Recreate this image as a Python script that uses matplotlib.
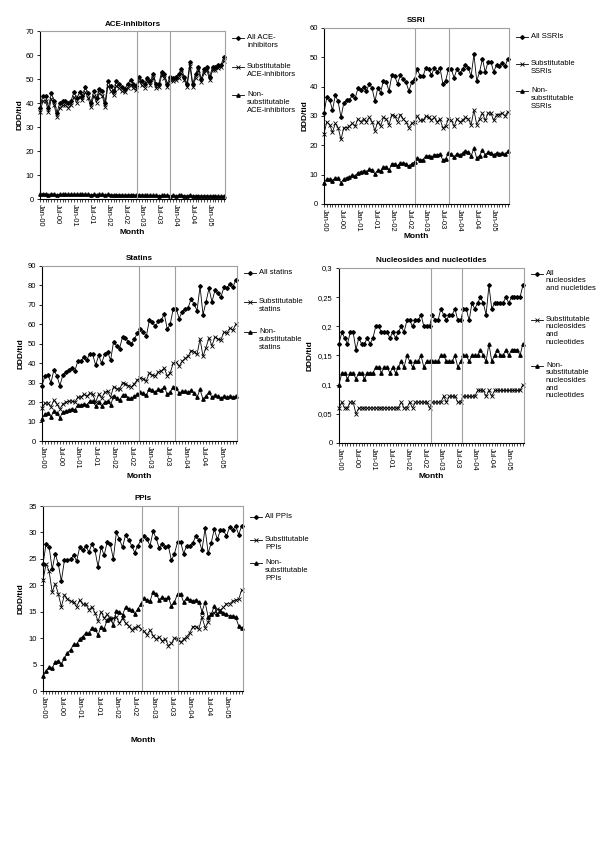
import matplotlib
matplotlib.use("Agg")
import matplotlib.pyplot as plt
from matplotlib.lines import Line2D

plt.rcParams['font.family'] = ['Liberation Sans', 'DejaVu Sans']

tick_labels = ['Jan-00', 'Jul-00', 'Jan-01', 'Jul-01', 'Jan-02', 'Jul-02',
               'Jan-03', 'Jul-03', 'Jan-04', 'Jul-04', 'Jan-05']

# ACE-inhibitors
ace_all = [38, 43, 43, 38, 44, 41, 36, 40, 41, 41, 40, 41, 44.5, 42, 44.5, 43, 46.5, 44, 40, 45,
           42, 46, 45, 40, 49, 47, 45, 49, 48, 46.5, 46, 48, 49.5, 48, 47, 51, 49, 48, 50.5, 49,
           52, 48, 48, 53, 52, 48, 51, 50.5, 51, 52, 54, 51, 48, 57, 48, 52, 55, 50, 54, 55,
           51, 55, 55, 56, 56, 59]
ace_sub = [36.1, 40.8, 40.9, 36.2, 41.8, 39.0, 34.3, 38.1, 39.0, 39.1, 38.1, 39.1, 42.5, 40.1, 42.5,
           41.1, 44.5, 42.1, 38.3, 43.1, 40.2, 44.1, 43.1, 38.3, 47.1, 45.2, 43.3, 47.2, 46.2, 44.8,
           44.4, 46.3, 47.7, 46.3, 45.4, 49.3, 47.3, 46.4, 49.0, 47.4, 50.5, 46.4, 46.6, 51.5, 50.4,
           46.5, 49.6, 49.0, 49.6, 50.5, 52.5, 49.6, 46.7, 55.5, 46.7, 50.6, 53.6, 48.7, 52.6, 53.6,
           49.7, 53.6, 53.7, 54.7, 54.9, 57.7]
ace_non = [1.9, 2.2, 2.1, 1.8, 2.2, 2.0, 1.7, 1.9, 2.0, 1.9, 1.9, 1.9, 2.0, 1.9, 2.0, 1.9, 2.0, 1.9,
           1.7, 1.9, 1.8, 1.9, 1.9, 1.7, 1.9, 1.8, 1.7, 1.8, 1.8, 1.7, 1.6, 1.7, 1.8, 1.7, 1.6, 1.7,
           1.7, 1.6, 1.5, 1.6, 1.5, 1.6, 1.4, 1.5, 1.6, 1.5, 1.4, 1.5, 1.4, 1.5, 1.5, 1.4, 1.3, 1.5,
           1.3, 1.4, 1.4, 1.3, 1.4, 1.4, 1.3, 1.4, 1.3, 1.3, 1.1, 1.3]

# SSRI
ssri_all = [31, 36.5, 35.5, 32, 37, 35, 29.5, 34.5, 35.5, 35.5, 37, 36, 39.5, 39, 40, 38.5, 41, 39.5,
            35, 39.5, 38, 42, 41.5, 38.5, 44, 43.5, 41, 44, 42.5, 41.5, 38.5, 41.5, 42.5, 46, 43.5,
            43.5, 46.5, 46, 44, 46.5, 45, 46.5, 41, 42, 46, 46, 43, 46, 44.5, 46, 47.5, 46.5, 43.5,
            51, 42, 45, 49.5, 45, 48.5, 48.5, 45, 47.5, 47, 48, 47, 49.5]
ssri_sub = [24, 28, 27, 24.5, 27.5, 26, 22, 26, 26, 26.5, 27.5, 26.5, 29, 28, 29, 28, 29.5, 28, 25,
            28, 26.5, 29.5, 29, 27, 30.5, 30, 28, 30.5, 29, 28, 26, 27.5, 28, 30, 28.5, 28.5, 30,
            29.5, 28.5, 29.5, 28, 29, 26, 26.5, 29, 28.5, 26.5, 29, 28, 28.5, 29.5, 29, 27, 32, 27,
            29, 31, 28.5, 31, 31, 28.5, 30.5, 30.5, 31, 30, 31.5]
ssri_non = [7.3, 8.5, 8.5, 8, 9, 8.7, 7.3, 8.5, 9, 9.2, 9.8, 9.5, 10.7, 11, 11.3, 11, 11.8, 11.7, 10.2,
            11.5, 11.3, 12.6, 12.7, 11.5, 13.8, 13.7, 13, 14, 14, 13.8, 12.8, 13.8, 14.3, 15.8, 15.1,
            15.1, 16.4, 16.4, 15.9, 16.8, 16.8, 17, 15, 15.4, 17.3, 17.2, 16, 17.2, 16.8, 17.3, 18.2,
            17.6, 16.3, 19, 15.6, 16.5, 18.3, 16.8, 17.6, 17.5, 16.8, 17.4, 17.2, 17.4, 16.9, 18]

# Statins
stat_all = [28.5, 33.5, 34, 30, 36.5, 33.5, 28.5, 34, 35.5, 36.5, 37.5, 36, 41, 41, 43, 41.5, 45,
            44.5, 39, 44, 40, 44.5, 46, 41.5, 51, 49, 47.5, 53.5, 53, 51, 50, 52.5, 55.5, 57.5, 56,
            54, 62, 61, 59, 61.5, 62, 65.5, 57.5, 60, 68, 68, 63, 66.5, 68, 68.5, 73, 70.5, 67, 79.5,
            65, 71.5, 78.5, 71.5, 77.5, 76, 74, 79, 78.5, 81, 79, 83]
stat_sub = [17, 19.5, 19.5, 17.5, 21, 19, 16.5, 19, 20, 20.5, 20.5, 20, 22.5, 22.5, 24, 23, 24.5, 24,
            20, 24, 22, 25, 25.5, 22.5, 28, 27, 26.5, 30, 29.5, 28.5, 28, 29.5, 31.5, 32.5, 32, 31,
            35, 34, 33.5, 35.5, 36, 37.5, 33.5, 35, 40, 40.5, 38.5, 41, 42.5, 43.5, 46.5, 46, 44.5,
            52.5, 43.5, 48, 53, 49, 53.5, 52.5, 52, 56, 55.5, 58, 57, 60]
stat_non = [11.5, 14, 14.5, 12.5, 15.5, 14.5, 12, 15, 15.5, 16, 16.5, 16, 18.5, 18.5, 19, 18.5, 20.5,
            20.5, 18, 20, 18, 20, 20.5, 18.5, 23, 22, 21, 23.5, 23.5, 22, 22, 23, 24, 25, 24.5, 23.5,
            27, 26, 25, 26.5, 26, 28, 24, 25, 28, 27.5, 24.5, 25.5, 25.5, 25, 26, 24.5, 22.5, 26.5,
            21.5, 23, 25, 22.5, 23.5, 23, 22, 23, 22.5, 23, 22.5, 23]

# Nucleosides and nucleotides
nuc_all = [0.17, 0.19, 0.18, 0.17, 0.19, 0.19, 0.16, 0.18, 0.17, 0.17, 0.18, 0.17, 0.18, 0.20, 0.20,
           0.19, 0.19, 0.19, 0.18, 0.19, 0.18, 0.19, 0.20, 0.19, 0.21, 0.21, 0.20, 0.21, 0.21, 0.22,
           0.20, 0.20, 0.20, 0.22, 0.21, 0.21, 0.23, 0.22, 0.21, 0.22, 0.22, 0.23, 0.21, 0.21, 0.23,
           0.23, 0.21, 0.24, 0.23, 0.24, 0.25, 0.24, 0.22, 0.27, 0.23, 0.24, 0.24, 0.24, 0.24, 0.25,
           0.24, 0.25, 0.25, 0.25, 0.25, 0.27]
nuc_sub = [0.06, 0.07, 0.06, 0.06, 0.07, 0.07, 0.05, 0.06, 0.06, 0.06, 0.06, 0.06, 0.06, 0.06, 0.06,
           0.06, 0.06, 0.06, 0.06, 0.06, 0.06, 0.06, 0.07, 0.06, 0.06, 0.07, 0.06, 0.07, 0.07, 0.07,
           0.07, 0.07, 0.06, 0.07, 0.07, 0.07, 0.07, 0.08, 0.07, 0.08, 0.08, 0.08, 0.07, 0.07, 0.08,
           0.08, 0.08, 0.08, 0.08, 0.09, 0.09, 0.09, 0.08, 0.09, 0.08, 0.09, 0.09, 0.09, 0.09, 0.09,
           0.09, 0.09, 0.09, 0.09, 0.09, 0.10]
nuc_non = [0.10, 0.12, 0.12, 0.11, 0.12, 0.12, 0.11, 0.12, 0.12, 0.11, 0.12, 0.12, 0.12, 0.13, 0.13,
           0.12, 0.13, 0.13, 0.12, 0.13, 0.12, 0.13, 0.14, 0.13, 0.15, 0.14, 0.13, 0.14, 0.14, 0.15,
           0.13, 0.14, 0.14, 0.14, 0.14, 0.14, 0.15, 0.15, 0.14, 0.14, 0.14, 0.15, 0.13, 0.14, 0.15,
           0.15, 0.14, 0.15, 0.15, 0.15, 0.16, 0.15, 0.14, 0.17, 0.14, 0.15, 0.16, 0.15, 0.15, 0.16,
           0.15, 0.16, 0.16, 0.16, 0.15, 0.17]

# PPIs
ppi_all = [24, 27.8, 27.3, 23, 26, 24, 20.8, 24.7, 24.7, 24.9, 25.7, 24.6, 27.2, 26.6, 27.4, 26.3,
           27.8, 26.6, 23.5, 27.2, 25.7, 28.2, 27.8, 25, 30, 28.7, 27.2, 29.5, 28.6, 27.5, 26.2, 27.5,
           28.5, 29.4, 28.7, 27.5, 30.2, 28.9, 27, 27.9, 27.2, 27.4, 24.7, 26, 28.2, 28.2, 26, 27.5,
           27.5, 28, 29.4, 28.5, 26.6, 30.8, 26.1, 28, 30.6, 28.7, 30.4, 30.4, 29.3, 31, 30.5, 31.2,
           29.6, 31.3]
ppi_sub = [21, 24, 22.7, 18.7, 20.3, 18.4, 15.9, 18.2, 17.4, 17, 16.8, 15.9, 17.2, 16.4, 16.4, 15.4,
           15.9, 14.8, 13.2, 15, 13.8, 14.5, 13.5, 13.8, 14, 12.8, 13.8, 12.8, 12.3, 11.6, 12.0, 12.3,
           11.8, 11.3, 10.6, 11.5, 10.5, 9.8, 10.2, 9.5, 9.8, 8.6, 9, 10, 9.8, 9.2, 9.8, 10.3, 11,
           12.2, 12.2, 11.8, 14, 12, 13, 14.5, 14.8, 15.5, 15.3, 15.8, 16.5, 16.5, 17, 17.2, 17.4, 19.2]
ppi_non = [2.8, 3.8, 4.5, 4.3, 5.5, 5.7, 5.1, 6.2, 7.2, 7.8, 8.8, 8.8, 9.9, 10.3, 11, 10.9, 12, 11.8,
           10.6, 12.2, 11.8, 13.5, 13.9, 12.5, 15.2, 15, 14.4, 15.9, 15.6, 15.3, 14.6, 15.5, 16.5,
           17.6, 17.2, 17, 18.8, 18.4, 17.2, 17.8, 17.4, 17.7, 16.1, 16.8, 18.4, 18.4, 16.8, 17.6,
           17.3, 17.1, 17.2, 16.9, 15, 16.8, 14, 14.5, 16, 14.5, 15.2, 14.8, 14.5, 14.2, 14.2, 14, 12.3, 12]

W, H = 600, 850
fig = plt.figure(figsize=(6, 8.5), dpi=100)


def fx(x):
    return x / W


def fy(y):
    return 1 - y / H


markers = [dict(marker='D', ms=1.9, mfc='black', mec='black'),
           dict(marker='x', ms=2.6, mew=0.6, mec='black'),
           dict(marker='^', ms=2.4, mfc='black', mec='black')]


def panel(box, title, series, ymax, ystep, fmt, vlines, leg, leg_y, ylab_x, month_y, lsp=1.2):
    left, right, top, bottom = box
    ax = fig.add_axes([fx(left), fy(bottom), fx(right - left), (bottom - top) / H])
    n = len(series[0])
    x = list(range(n))
    for s, m in zip(series, markers):
        ax.plot(x, s, color='black', lw=0.6, clip_on=False, **m)
    for v in vlines:
        ax.axvline(v, color='#a0a0a0', lw=0.8)
    ax.set_xlim(0, n - 0.6)
    ax.set_ylim(0, ymax)
    yt = [i * ystep for i in range(int(round(ymax / ystep)) + 1)]
    ax.set_yticks(yt)
    ax.set_yticklabels([fmt(v) for v in yt], fontsize=5.5)
    ax.set_xticks(x)
    ax.set_xticklabels([tick_labels[i // 6] if i % 6 == 0 and i // 6 < len(tick_labels) else ''
                        for i in x], rotation=-90, fontsize=5.3, va='top', ha='center')
    ax.tick_params(axis='x', length=2, width=0.5, pad=1.5)
    ax.tick_params(axis='y', length=2.5, width=0.6, pad=2)
    for sp in ['left', 'bottom']:
        ax.spines[sp].set_linewidth(0.8)
    for sp in ['top', 'right']:
        ax.spines[sp].set_color('#a0a0a0')
        ax.spines[sp].set_linewidth(0.8)
    cx = (left + right) / 2
    fig.text(fx(cx), fy(top - 7), title, ha='center', va='center', fontsize=5.8, fontweight='bold')
    fig.text(fx(cx), fy(month_y), 'Month', ha='center', va='center', fontsize=6, fontweight='bold')
    fig.text(fx(ylab_x), fy((top + bottom) / 2), 'DDD/tid', rotation=90, ha='center',
             va='center', fontsize=6, fontweight='bold')
    hx0 = right + 7
    for lab, yy, m in zip(leg, leg_y, markers):
        fig.add_artist(Line2D([fx(hx0), fx(hx0 + 12)], [fy(yy), fy(yy)], color='black', lw=0.6))
        fig.add_artist(Line2D([fx(hx0 + 6)], [fy(yy)], color='black', **m))
        fig.text(fx(hx0 + 15), fy(yy - 4), lab, ha='left', va='top', fontsize=5.5,
                 linespacing=lsp)
    return ax


def num(v):
    return '%g' % v


def comma(v):
    return ('%g' % round(v, 2)).replace('.', ',')


panel((40, 225, 31, 199), 'ACE-inhibitors', [ace_all, ace_sub, ace_non], 70, 10, num,
      [34.2, 45.9],
      ['All ACE-\ninhibitors', 'Substitutable\nACE-inhibitors',
       'Non-\nsubstitutable\nACE-inhibitors'],
      [38, 67, 95], 20, 233)

panel((324, 509, 28, 204), 'SSRI', [ssri_all, ssri_sub, ssri_non], 60, 10, num,
      [32.3, 44.3],
      ['All SSRIs', 'Substitutable\nSSRIs', 'Non-\nsubstitutable\nSSRIs'],
      [37, 64, 91], 305, 236)

panel((42, 237, 266, 441), 'Statins', [stat_all, stat_sub, stat_non], 90, 10, num,
      [32.6, 44.5],
      ['All statins', 'Substitutable\nstatins', 'Non-\nsubstitutable\nstatins'],
      [273, 302, 332], 21, 476)

panel((339, 524, 268, 443), 'Nucleosides and nucleotides', [nuc_all, nuc_sub, nuc_non],
      0.3, 0.05, comma, [32.6, 43.4],
      ['All\nnucleosides\nand nucletides', 'Substitutable\nnucleosides\nand\nnucleotides',
       'Non-\nsubstitutable\nnucleosides\nand\nnucleotides'],
      [274, 320, 366], 310, 476, lsp=1.1)

panel((43, 243, 506, 691), 'PPIs', [ppi_all, ppi_sub, ppi_non], 35, 5, num,
      [32.4, 44.2],
      ['All PPIs', 'Substitutable\nPPIs', 'Non-\nsubstitutable\nPPIs'],
      [517, 540, 563], 21, 741)

fig.savefig('out.png', dpi=100)
